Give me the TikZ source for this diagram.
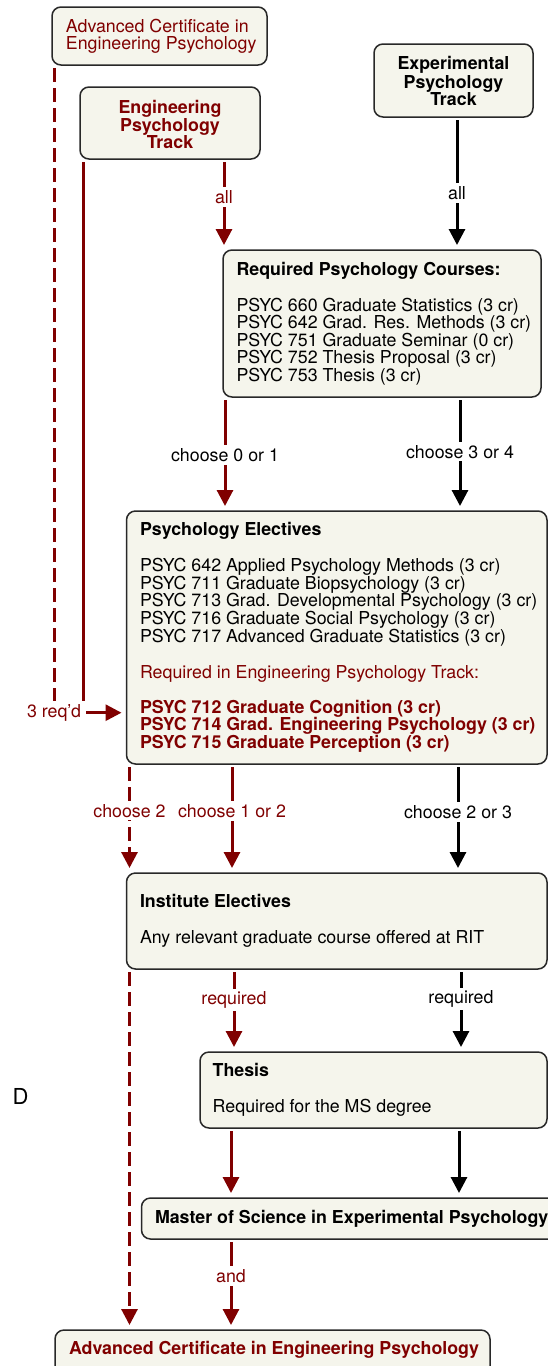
\documentclass[tikz,border=0pt]{standalone}
\usepackage{fontspec}
\setmainfont{TeX Gyre Heros}
\usetikzlibrary{arrows.meta,fit}
\definecolor{dred}{RGB}{128,0,0}
\definecolor{boxfill}{RGB}{245,245,236}
\definecolor{boxline}{RGB}{40,40,40}
\newcommand\fsz{\fontsize{17.8}{18}\selectfont}
\begin{document}
\begin{tikzpicture}[x=1pt,y=-1pt,
 box/.style={draw=boxline, line width=1.5pt, fill=boxfill, rounded corners=9pt, inner sep=0pt, outer sep=0pt},
 ln/.style={anchor=base west, inner sep=0pt, font=\fsz},
 cln/.style={anchor=base, inner sep=0pt, font=\fsz\bfseries},
 lab/.style={fill=white, inner sep=3pt, font=\fsz},
 tip/.style={-{Triangle[width=16pt,length=16pt]}},
 redarr/.style={draw=dred, line width=3pt, tip, shorten <=3pt, shorten >=5pt},
 blkarr/.style={draw=black, line width=3pt, tip, shorten <=3pt, shorten >=5pt},
 redline/.style={draw=dred, line width=3pt, shorten <=3pt},
 reddash/.style={draw=dred, line width=3pt, dash pattern=on 14pt off 6pt, shorten <=3pt},
]
\useasboundingbox (0,0) rectangle (548,1366);
\clip (0,0) rectangle (548,1366);

% boxes
\node[box, fit={(52,7) (267,65)}] (advtop) {};
\node[box, fit={(80,87) (260,159)}] (eng) {};
\node[box, fit={(374,44) (533,117)}] (exp) {};
\node[box, fit={(223,250) (541,397)}] (req) {};
\node[box, fit={(126.5,511) (547,764)}] (pe) {};
\node[box, fit={(126.5,873) (547,969)}] (ie) {};
\node[box, fit={(200,1052) (547,1128)}] (thesis) {};
\node[box, fit={(141.5,1198) (562,1239)}] (ms) {};
\node[box, fit={(55,1330) (490,1382)}] (advbot) {};

% box texts
\node[ln, text=dred] (at1) at (65.7,32.3) {Advanced Certificate in};
\node[ln, text=dred] (at2) at (65.7,49.3) {Engineering Psychology};

\node[cln, text=dred] (et1) at (170,113.3) {Engineering};
\node[cln, text=dred] (et2) at (170,131.3) {Psychology};
\node[cln, text=dred] (et3) at (170,148.3) {Track};

\node[cln] (xt1) at (453.5,69.6) {Experimental};
\node[cln] (xt2) at (453.5,88) {Psychology};
\node[cln] (xt3) at (453.5,105.3) {Track};

\node[ln, font=\fsz\bfseries] (rt) at (236.3,275.6) {Required Psychology Courses:};
\foreach \t [count=\i from 0] in {PSYC 660 Graduate Statistics (3 cr), PSYC 642 Grad. Res. Methods (3 cr), PSYC 751 Graduate Seminar (0 cr), PSYC 752 Thesis Proposal (3 cr), PSYC 753 Thesis (3 cr)}
  \node[ln] (r\i) at (236.3,311.3+17.5*\i) {\t};

\node[ln, font=\fsz\bfseries] (pt) at (139.8,535.6) {Psychology Electives};
\foreach \t [count=\i from 0] in {PSYC 642 Applied Psychology Methods (3 cr), PSYC 711 Graduate Biopsychology (3 cr), PSYC 713 Grad. Developmental Psychology (3 cr), PSYC 716 Graduate Social Psychology (3 cr), PSYC 717 Advanced Graduate Statistics (3 cr)}
  \node[ln] (p\i) at (139.8,571.3+17.75*\i) {\t};
\node[ln, text=dred] (preq) at (139.8,678) {Required in Engineering Psychology Track:};
\foreach \t [count=\i from 0] in {PSYC 712 Graduate Cognition (3 cr), PSYC 714 Grad. Engineering Psychology (3 cr), PSYC 715 Graduate Perception (3 cr)}
  \node[ln, text=dred, font=\fsz\bfseries] (q\i) at (139.8,713+17.8*\i) {\t};

\node[ln, font=\fsz\bfseries] (it) at (139.8,907.3) {Institute Electives};
\node[ln] (i1) at (139.8,943) {Any relevant graduate course offered at RIT};

\node[ln, font=\fsz\bfseries] (tt) at (212.5,1076.3) {Thesis};
\node[ln] (t1) at (212.5,1112) {Required for the MS degree};

\node[ln, font=\fsz\bfseries] (mt) at (154.8,1223) {Master of Science in Experimental Psychology};

\node[ln, text=dred, font=\fsz\bfseries] (bt) at (68.9,1354.6) {Advanced Certificate in Engineering Psychology};

\node[anchor=base west, inner sep=0pt, font=\fontsize{22}{22}\selectfont] (dd) at (12.5,1104) {D};

% helper x positions
\coordinate (xa) at (54,0);
\coordinate (xb) at (83,0);
\coordinate (xc) at (224,0);
\coordinate (xd) at (457,0);
\coordinate (xe) at (225,0);
\coordinate (xf) at (460,0);
\coordinate (xg) at (129.5,0);
\coordinate (xh) at (232,0);
\coordinate (xi) at (458,0);
\coordinate (xj) at (234,0);
\coordinate (xk) at (461,0);
\coordinate (xl) at (231,0);
\coordinate (xm) at (459,0);

% 3 req'd
\node[lab, text=dred, inner xsep=4pt] (req3) at (54,712.7) {3 req'd};
\draw[reddash] (advtop.south -| xa) -- (req3.north);
\draw[redline] (eng.south -| xb) -- (req3.north -| xb);
\draw[redarr, shorten <=1pt] (req3.east) -- (pe.west |- req3);

% connectors
\draw[redarr] (eng.south -| xc) -- node[lab, text=dred, pos=0.418] (l1) {all} (req.north -| xc);
\draw[blkarr] (exp.south -| xd) -- node[lab, pos=0.571] (l2) {all} (req.north -| xd);
\draw[redarr] (req.south -| xe) -- node[lab, text=black, pos=0.509] (l3) {choose 0 or 1} (pe.north -| xe);
\draw[blkarr] (req.south -| xf) -- node[lab, pos=0.48] (l4) {choose 3 or 4} (pe.north -| xf);
\draw[reddash, tip, shorten >=5pt] (pe.south -| xg) -- node[lab, text=dred, pos=0.428] (l5) {choose 2} (ie.north -| xg);
\draw[redarr] (pe.south -| xh) -- node[lab, text=dred, pos=0.43] (l6) {choose 1 or 2} (ie.north -| xh);
\draw[blkarr] (pe.south -| xi) -- node[lab, pos=0.44] (l7) {choose 2 or 3} (ie.north -| xi);
\draw[redarr] (ie.south -| xj) -- node[lab, text=dred, pos=0.373] (l8) {required} (thesis.north -| xj);
\draw[blkarr] (ie.south -| xk) -- node[lab, pos=0.361] (l9) {required} (thesis.north -| xk);
\draw[redarr] (thesis.south -| xl) -- (ms.north -| xl);
\draw[blkarr] (thesis.south -| xm) -- (ms.north -| xm);
\draw[redarr] (ms.south -| xl) -- node[lab, text=dred, pos=0.407] (l10) {and} (advbot.north -| xl);
\draw[reddash, tip, shorten >=5pt] (ie.south -| xg) -- (advbot.north -| xg);
\end{tikzpicture}
\end{document}
